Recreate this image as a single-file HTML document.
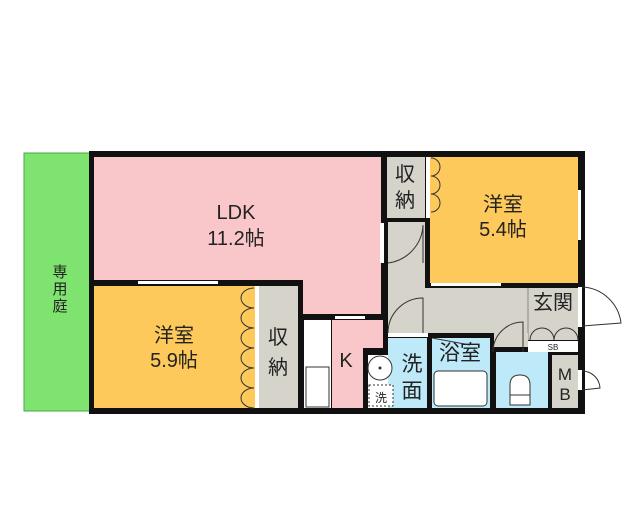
<!DOCTYPE html>
<html><head><meta charset="utf-8"><style>
body{margin:0;background:#fff;}
svg text{font-family:"Liberation Sans","Noto Sans CJK JP",sans-serif;fill:#222;}
</style></head><body>
<svg width="640" height="512" viewBox="0 0 640 512" xmlns="http://www.w3.org/2000/svg">
<rect width="640" height="512" fill="#fff"/>
<rect x="24" y="153" width="66" height="258" fill="#7FE36F" stroke="#4a4" stroke-width="1"/>
<text x="60" y="277" font-size="15" text-anchor="middle">専</text>
<text x="60" y="294" font-size="15" text-anchor="middle">用</text>
<text x="60" y="311" font-size="15" text-anchor="middle">庭</text>
<rect x="89" y="151" width="496" height="263" fill="#111"/>
<path d="M94 157 H381 V314 H303 V280 H94 Z" fill="#F9C6C9"/>
<rect x="94" y="286" width="161" height="122" fill="#FDC95A"/>
<rect x="259" y="286" width="39" height="122" fill="#D6D3CA"/>
<rect x="255" y="286" width="4" height="122" fill="#fff"/>
<rect x="304" y="320" width="27" height="88" fill="#fff"/>
<rect x="306" y="367" width="23" height="40" fill="#fff" stroke="#333"/>
<path d="M332 320 H383 V348 H363 V408 H332 Z" fill="#F9C6C9"/>
<path d="M388 222 H425 V288 H528 V333 H388 Z" fill="#D6D3CA"/>
<rect x="387" y="157" width="38" height="61" fill="#D6D3CA"/>
<rect x="430" y="157" width="148" height="126" fill="#FDC95A"/>
<rect x="528" y="288" width="50" height="52" fill="#D6D3CA"/>
<line x1="528" y1="288" x2="528" y2="340" stroke="#888" stroke-width="1"/>
<rect x="528" y="341" width="50" height="11" fill="#fff"/>
<text x="553" y="350" font-size="8" text-anchor="middle">SB</text>
<rect x="368" y="355" width="59" height="53" fill="#fff"/>
<rect x="388" y="338" width="39" height="70" fill="#BEE9F8"/>
<circle cx="380" cy="368" r="12" fill="#fff" stroke="#333"/>
<circle cx="380" cy="368" r="1.5" fill="#333"/>
<rect x="369" y="385" width="24" height="21" fill="#fff" stroke="#333" stroke-dasharray="2,2"/>
<text x="381" y="402" font-size="12" text-anchor="middle">洗</text>
<rect x="432" y="338" width="58" height="70" fill="#BEE9F8"/>
<rect x="434" y="371" width="53" height="35" rx="4" fill="#fff" stroke="#333"/>
<rect x="496" y="352" width="52" height="56" fill="#BEE9F8"/>
<rect x="494" y="333" width="34" height="14" fill="#D6D3CA"/>
<path d="M510 405 V385 Q510 375 520 375 Q530 375 530 385 V405 Z" fill="#fff" stroke="#333"/>
<line x1="510" y1="395" x2="530" y2="395" stroke="#333"/>
<rect x="552" y="355" width="26" height="53" fill="#D6D3CA"/>
<rect x="138" y="281" width="80" height="3" fill="#fff"/>
<rect x="335" y="316" width="30" height="3" fill="#fff"/>
<rect x="380" y="223" width="4" height="40" fill="#fff"/>
<rect x="578" y="190" width="3" height="50" fill="#fff"/>
<rect x="431" y="283" width="70" height="3" fill="#fff"/>
<rect x="578" y="287" width="4" height="40" fill="#fff"/>
<rect x="578" y="370" width="4" height="20" fill="#fff"/>
<rect x="426" y="157" width="4" height="61" fill="#fff"/>
<rect x="388" y="333" width="40" height="4" fill="#fff"/>
<g fill="none" stroke="#333" stroke-width="1">
<path d="M582 287 A41 41 0 0 1 621 323 L582 326"/>
<path d="M582 371 A18 18 0 0 1 600 388 L582 390"/>
<path d="M388 263 A40 40 0 0 0 423 225 V263"/>
<path d="M388 333 A35 35 0 0 1 423 298 V333"/>
<path d="M493 352 A30 30 0 0 1 523 322 V352"/>
<path d="M254 288 a13 10 0 0 0 0 20 M254 308 a13 10 0 0 0 0 20 M254 328 a13 10 0 0 0 0 20 M254 348 a13 10 0 0 0 0 20 M254 368 a13 10 0 0 0 0 20 M254 388 a13 10 0 0 0 0 20"/>
<path d="M431 158 a9 9 0 0 1 0 18 a9 9 0 0 1 0 18 a9 9 0 0 1 0 18"/>
<path d="M530 340 a12 12 0 0 1 24 0 a12 12 0 0 1 24 0"/>
<path d="M432 338 L470 345"/>
</g>
<text x="236" y="219" font-size="20" text-anchor="middle">LDK</text>
<text x="236" y="245" font-size="20" text-anchor="middle">11.2帖</text>
<text x="174" y="342" font-size="20" text-anchor="middle">洋室</text>
<text x="174" y="367" font-size="20" text-anchor="middle">5.9帖</text>
<text x="278" y="344" font-size="20" text-anchor="middle">収</text>
<text x="278" y="374" font-size="20" text-anchor="middle">納</text>
<text x="346" y="367" font-size="20" text-anchor="middle">K</text>
<text x="405" y="181" font-size="20" text-anchor="middle">収</text>
<text x="405" y="207" font-size="20" text-anchor="middle">納</text>
<text x="503" y="211" font-size="20" text-anchor="middle">洋室</text>
<text x="503" y="236" font-size="20" text-anchor="middle">5.4帖</text>
<text x="553" y="309" font-size="20" text-anchor="middle">玄関</text>
<text x="412" y="371" font-size="21" text-anchor="middle">洗</text>
<text x="412" y="398" font-size="21" text-anchor="middle">面</text>
<text x="460" y="360" font-size="21" text-anchor="middle">浴室</text>
<text x="565" y="380" font-size="17" text-anchor="middle">M</text>
<text x="565" y="400" font-size="17" text-anchor="middle">B</text>
</svg>
</body></html>
